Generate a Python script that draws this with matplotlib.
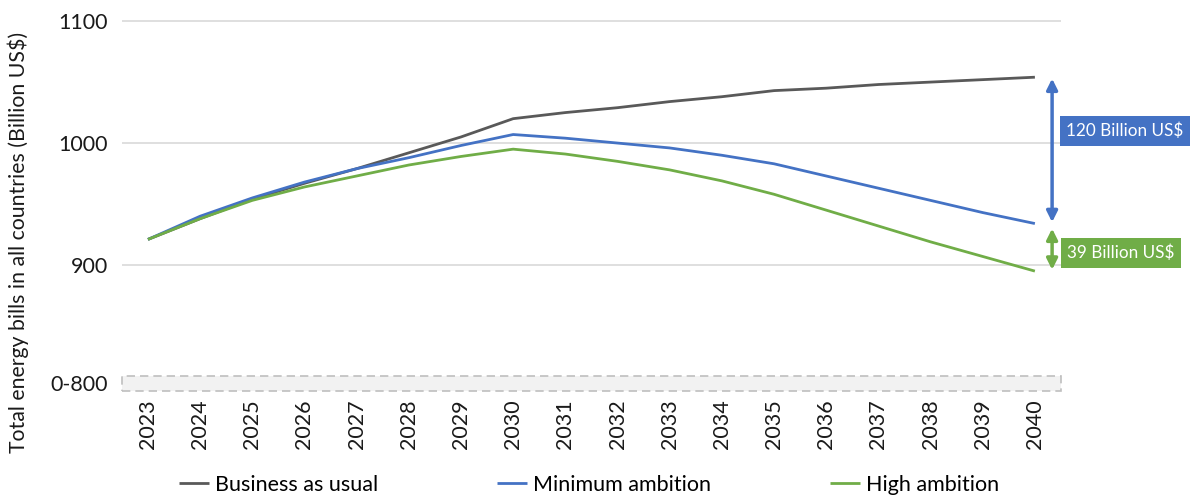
import matplotlib.pyplot as plt
from matplotlib.patches import Rectangle

plt.rcParams['font.family'] = ['Lato', 'DejaVu Sans']

years = list(range(2023, 2041))
business_as_usual = [921, 938, 954, 967, 979, 992, 1005, 1020, 1025, 1029,
                     1034, 1038, 1043, 1045, 1048, 1050, 1052, 1054]
minimum_ambition = [921, 940, 955, 968, 979, 988, 998, 1007, 1004, 1000,
                    996, 990, 983, 973, 963, 953, 943, 934]
high_ambition = [921, 938, 953, 964, 973, 982, 989, 995, 991, 985,
                 978, 969, 958, 945, 932, 919, 907, 895]

gap_min = business_as_usual[-1] - minimum_ambition[-1]
gap_high = minimum_ambition[-1] - high_ambition[-1]

fig = plt.figure(figsize=(11.96, 4.97), dpi=100)
ax = fig.add_axes([0.1019, 0.2133, 0.7852, 0.7565])

grey = '#595959'
blue = '#4472C4'
green = '#70AD47'

ax.set_xlim(2022.5, 2040.5)
ax.set_ylim(796.7, 1105)

# grid lines for the real part of the scale
for v in (900, 1000, 1100):
    ax.axhline(v, color='#d9d9d9', lw=1.2, zorder=0)

# broken-axis band standing in for 0-800
ax.add_patch(Rectangle((2022.5, 797), 18, 12, facecolor='#f2f2f2',
                       edgecolor='#bfbfbf', ls=(0, (5, 3)), lw=1.2, clip_on=False))

kw = dict(lw=2, solid_capstyle='butt', solid_joinstyle='round')
ax.plot(years, business_as_usual, color=grey, label='Business as usual', **kw)
ax.plot(years, minimum_ambition, color=blue, label='Minimum ambition', **kw)
ax.plot(years, high_ambition, color=green, label='High ambition', **kw)

# gap arrows at 2040
xa = 2040.33
ax.annotate('', xy=(xa, business_as_usual[-1]), xytext=(xa, minimum_ambition[-1]),
            arrowprops=dict(arrowstyle='<|-|>', color=blue, lw=2.5,
                            mutation_scale=16, shrinkA=1, shrinkB=1))
ax.annotate('', xy=(xa, minimum_ambition[-1] - 3), xytext=(xa, high_ambition[-1]),
            arrowprops=dict(arrowstyle='<|-|>', color=green, lw=2.5,
                            mutation_scale=16, shrinkA=1, shrinkB=1))
ax.text(2040.6, 1010, f'{gap_min} Billion US$', color='white', fontsize=12.3,
        va='center', ha='left', clip_on=False,
        bbox=dict(boxstyle='square,pad=0.38', fc=blue, ec='none'))
ax.text(2040.62, 910, f'{gap_high} Billion US$', color='white', fontsize=12.3,
        va='center', ha='left', clip_on=False,
        bbox=dict(boxstyle='square,pad=0.38', fc=green, ec='none'))

ax.set_yticks([803, 900, 1000, 1100])
ax.set_yticklabels(['0-800', '900', '1000', '1100'])
ax.set_xticks(years)
ax.set_xticklabels([str(y) for y in years], rotation=90)
ax.tick_params(axis='both', length=0, labelsize=15.5, colors='#1a1a1a')
ax.tick_params(axis='y', pad=10)
ax.tick_params(axis='x', pad=6)
for s in ax.spines.values():
    s.set_visible(False)

ax.set_ylabel('Total energy bills in all countries (Billion US$)', fontsize=15.3,
              color='#1a1a1a')
ax.yaxis.set_label_coords(-0.099, 0.394)

fig.legend(loc='lower center', bbox_to_anchor=(0.4925, -0.035), ncol=3, frameon=False,
           fontsize=15.5, handlelength=1.4, handletextpad=0.25, columnspacing=5.55)

fig.savefig('out.png', dpi=100)
